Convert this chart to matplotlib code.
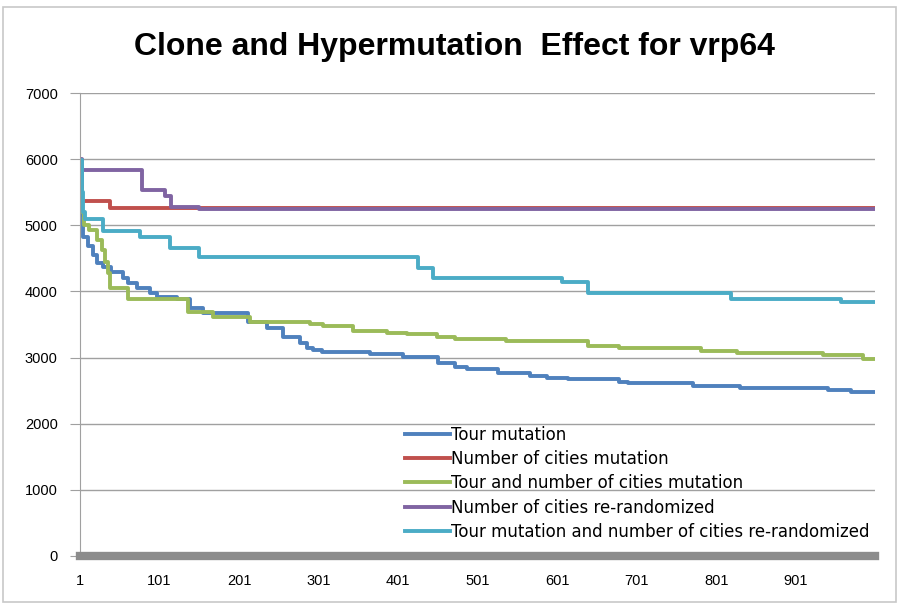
import matplotlib.pyplot as plt
from matplotlib.patches import Rectangle

# breakpoints of each step curve: iteration where a new best value starts
tour_x = [1, 3, 5, 11, 17, 22, 30, 40, 55, 61, 73, 89, 98, 123, 139, 156, 212, 236, 256,
          278, 286, 294, 305, 366, 407, 451, 473, 488, 527, 567, 588, 615, 678, 690,
          771, 831, 941, 970, 1000]
tour_y = [5900, 5150, 4830, 4680, 4550, 4430, 4370, 4300, 4200, 4130, 4050, 3980, 3920,
          3880, 3750, 3680, 3540, 3450, 3310, 3220, 3150, 3110, 3090, 3050, 3010, 2920,
          2860, 2830, 2770, 2720, 2690, 2680, 2630, 2610, 2570, 2540, 2510, 2480, 2480]

cities_x = [1, 3, 39, 1000]
cities_y = [5600, 5370, 5260, 5260]

both_x = [1, 3, 6, 12, 22, 29, 33, 36, 39, 61, 137, 168, 215, 290, 307, 344, 387, 412,
          450, 473, 536, 640, 678, 781, 827, 935, 985, 1000]
both_y = [5550, 5200, 5000, 4930, 4780, 4630, 4450, 4280, 4050, 3880, 3690, 3610, 3540,
          3510, 3470, 3400, 3370, 3360, 3310, 3280, 3250, 3180, 3150, 3100, 3070, 3040,
          2980, 2980]

rerand_x = [1, 3, 79, 108, 116, 150, 1000]
rerand_y = [6000, 5830, 5530, 5450, 5280, 5240, 5240]

tour_rerand_x = [1, 3, 5, 7, 30, 76, 114, 150, 426, 445, 607, 639, 819, 957, 1000]
tour_rerand_y = [5990, 5500, 5200, 5090, 4920, 4830, 4650, 4520, 4360, 4200, 4150, 3980,
                 3890, 3840, 3840]

labels = ["Tour mutation", "Number of cities mutation", "Tour and number of cities mutation",
          "Number of cities re-randomized", "Tour mutation and number of cities re-randomized"]
colors = ["#4F81BD", "#C0504D", "#9BBB59", "#8064A2", "#4BACC6"]
series = [(tour_x, tour_y), (cities_x, cities_y), (both_x, both_y),
          (rerand_x, rerand_y), (tour_rerand_x, tour_rerand_y)]

xticks = list(range(1, 1000, 100))
yticks = list(range(0, 7001, 1000))

fig = plt.figure(figsize=(8.99, 6.04), dpi=100)
fig.patches.append(Rectangle((0.003, 0.003), 0.994, 0.985, transform=fig.transFigure,
                             fill=False, edgecolor="#c8c8c8", linewidth=1.2))
ax = fig.add_axes([0.089, 0.0795, 0.884, 0.7665])

for (xs, ys), lab, c in zip(series, labels, colors):
    ax.plot(xs, ys, drawstyle="steps-post", color=c, lw=2.8, label=lab)

ax.set_xlim(1, 1000)
ax.set_ylim(0, 7000)
ax.set_yticks(yticks)
ax.set_xticks(xticks)
ax.set_yticklabels([str(v) for v in yticks], family="Liberation Sans", fontsize=10.5)
ax.set_xticklabels([str(v) for v in xticks], family="Liberation Sans", fontsize=10.5)
ax.grid(axis="y", color="#a0a0a0", lw=1)
ax.set_axisbelow(True)
ax.tick_params(axis="y", length=7, color="#a0a0a0", pad=9)
ax.tick_params(axis="x", length=0, pad=13)
for s in ["top", "right"]:
    ax.spines[s].set_visible(False)
ax.spines["left"].set_color("#a0a0a0")
ax.spines["bottom"].set_color("#8c8c8c")
ax.spines["bottom"].set_linewidth(6)

fig.text(0.506, 0.922, "Clone and Hypermutation  Effect for vrp64", ha="center", va="center",
         family="Liberation Sans", fontsize=23, fontweight="bold")

leg = ax.legend(loc="lower left", bbox_to_anchor=(0.4, 0.018), frameon=False,
                prop={"family": "DejaVu Sans", "size": 12}, handlelength=2.7,
                handletextpad=0.1, labelspacing=0.38, borderaxespad=0)

fig.savefig("out.png", dpi=100)
